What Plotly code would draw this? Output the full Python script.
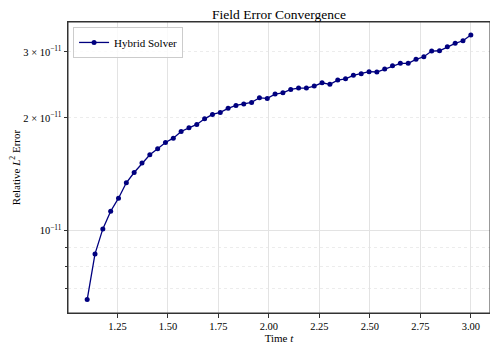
import numpy as np
import plotly.graph_objects as go

t_start, t_end, n_points = 1.1, 3.0, 50
time_t = np.linspace(t_start, t_end, n_points)
rel_error = [
    6.54e-12, 8.66e-12, 1.010e-11, 1.126e-11, 1.220e-11, 1.341e-11, 1.429e-11, 1.514e-11, 1.593e-11, 1.653e-11,
    1.719e-11, 1.765e-11, 1.839e-11, 1.881e-11, 1.920e-11, 1.988e-11, 2.042e-11, 2.068e-11, 2.120e-11, 2.159e-11,
    2.177e-11, 2.199e-11, 2.262e-11, 2.254e-11, 2.314e-11, 2.333e-11, 2.382e-11, 2.402e-11, 2.402e-11, 2.431e-11,
    2.481e-11, 2.457e-11, 2.523e-11, 2.543e-11, 2.597e-11, 2.623e-11, 2.656e-11, 2.651e-11, 2.700e-11, 2.755e-11,
    2.796e-11, 2.797e-11, 2.866e-11, 2.912e-11, 3.016e-11, 3.021e-11, 3.097e-11, 3.162e-11, 3.213e-11, 3.328e-11,
]
series_name = "Hybrid Solver"
x_ticks = [1.25, 1.5, 1.75, 2.0, 2.25, 2.5, 2.75, 3.0]
x_ticklabels = ["1.25", "1.50", "1.75", "2.00", "2.25", "2.50", "2.75", "3.00"]
y_ticks = [1e-11, 2e-11, 3e-11]
y_ticklabels = ["10<sup>−11</sup>", "2 × 10<sup>−11</sup>", "3 × 10<sup>−11</sup>"]
y_minor = [7e-12, 8e-12, 9e-12, 2e-11, 3e-11]

FONT = "Liberation Serif, Times New Roman, serif"
AX = "#333333"

fig = go.Figure()
fig.add_trace(go.Scatter(
    x=time_t, y=rel_error, mode="lines+markers", name=series_name,
    line=dict(color="#00007f", width=1.3),
    marker=dict(color="#00007f", size=5),
))

fig.add_shape(type="line", xref="paper", x0=0, x1=1, yref="y", y0=1e-11, y1=1e-11,
              line=dict(color="#e3e3e3", width=1), layer="below")
fig.add_shape(type="rect", xref="paper", yref="paper", x0=0, x1=1, y0=0, y1=1,
              line=dict(color=AX, width=1), fillcolor="rgba(0,0,0,0)", layer="above")

fig.update_layout(
    width=490, height=343,
    margin=dict(l=60, r=8, t=14, b=38),
    paper_bgcolor="white", plot_bgcolor="white",
    font=dict(family=FONT, size=11, color="black"),
    title=dict(text="Field Error Convergence", x=0.5, xref="paper", xanchor="center",
               y=1 - 6 / 343, yref="container", yanchor="middle", font=dict(size=13.5)),
    showlegend=True,
    legend=dict(x=0.012, y=0.983, xanchor="left", yanchor="top",
                bordercolor="#cccccc", borderwidth=1, bgcolor="rgba(255,255,255,0.8)",
                font=dict(size=11)),
    xaxis=dict(
        range=[1.005, 3.095], tickvals=x_ticks, ticktext=x_ticklabels,
        showline=True, mirror=True, linecolor=AX, linewidth=1,
        ticks="outside", ticklen=3.5, tickcolor=AX, tickwidth=0.8,
        showgrid=True, gridcolor="#e3e3e3", gridwidth=1, zeroline=False,
        automargin=False,
        title=dict(text="Time <i>t</i>", standoff=1, font=dict(size=11)),
        tickfont=dict(size=10.5),
    ),
    yaxis=dict(
        type="log", range=[-11.2203, -10.443], tickvals=y_ticks, ticktext=y_ticklabels,
        showline=True, mirror=True, linecolor=AX, linewidth=1,
        ticks="outside", ticklen=3.5, tickcolor=AX, tickwidth=0.8,
        showgrid=False, zeroline=False, automargin=False,
        minor=dict(tickvals=y_minor, ticks="outside", ticklen=2, tickcolor=AX,
                   showgrid=True, gridcolor="#ececec", griddash="dot", gridwidth=0.8),
        title=dict(text="Relative <i>L</i><sup>2</sup> Error", standoff=2, font=dict(size=11)),
        tickfont=dict(size=10.5),
    ),
)

fig.write_html("out.html")
